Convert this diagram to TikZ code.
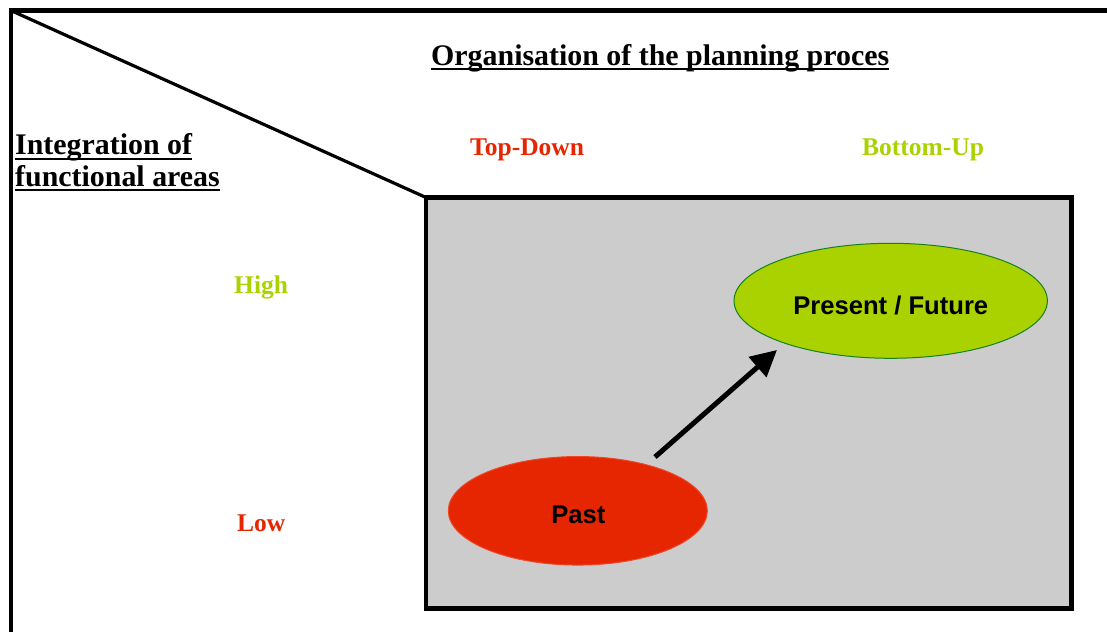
\documentclass[tikz,border=0pt]{standalone}
\usepackage{fontspec}
\setmainfont{Liberation Serif}
\setsansfont{Liberation Sans}
\usetikzlibrary{shapes.geometric,arrows.meta}
\definecolor{redc}{RGB}{229,38,0}
\definecolor{redborder}{RGB}{238,70,40}
\definecolor{greenc}{RGB}{170,210,0}
\definecolor{greenborder}{RGB}{20,130,30}
\definecolor{grayc}{RGB}{204,204,204}
\tikzset{
  bigtitle/.style={inner sep=0pt, anchor=base west, font=\fontsize{29.9bp}{33bp}\selectfont\bfseries},
  axislabel/.style={inner sep=0pt, anchor=base west, font=\fontsize{25.5bp}{28bp}\selectfont\bfseries},
  oval/.style={ellipse, inner sep=0pt, outer sep=0pt, line width=1bp},
  ovaltext/.style={inner sep=0pt, anchor=base, font=\fontsize{25.6bp}{28bp}\selectfont\sffamily\bfseries},
  uline/.style={line width=2bp},
  frameline/.style={line width=4.5bp},
}
\newcommand{\ulnode}[1]{\draw[uline] ([yshift=-4bp]#1.base west) -- ([yshift=-4bp]#1.base east);}
\begin{document}
\begin{tikzpicture}[x=1bp,y=-1bp]
\useasboundingbox (0,0) rectangle (1107,632);
% outer frame
\draw[frameline] (11,632) -- (11,10.3) -- (1107,10.3);
% panel
\node[draw, line width=4.8bp, fill=grayc, inner sep=0pt, outer sep=0pt,
      minimum width=645.5bp, minimum height=411bp] (panel) at (748.75,403) {};
\coordinate (corner) at (12,11);
\draw[line width=3.2bp] (corner) -- (panel.north west);
% titles
\node[bigtitle] (title) at (431,65.5) {Organisation of the planning proces};
\ulnode{title}
\node[bigtitle] (integ1) at (15,155) {Integration of};
\ulnode{integ1}
\node[bigtitle] (integ2) at (15,186.5) {functional areas};
\ulnode{integ2}
% axis labels
\node[axislabel, text=redc] (topdown) at (470,155.5) {Top-Down};
\node[axislabel, text=greenc] (bottomup) at (862,155.5) {Bottom-Up};
\node[axislabel, text=greenc] (high) at (234,293.5) {High};
\node[axislabel, text=redc] (low) at (237,531.5) {Low};
% ovals
\node[oval, draw=redborder, fill=redc, minimum width=259bp, minimum height=108.5bp] (past) at (577.8,510.8) {};
\node[ovaltext] (pasttext) at (578.3,523.3) {Past};
\node[oval, draw=greenborder, fill=greenc, minimum width=313.4bp, minimum height=115bp] (present) at (890.7,300.8) {};
\node[ovaltext] (presenttext) at (890.8,315) {Present / Future};
% arrow
\coordinate (a1) at (655,457);
\coordinate (a2) at (777,350);
\draw[line width=5bp, -{Triangle[length=26bp,width=26bp]}] (a1) -- (a2);
\end{tikzpicture}
\end{document}
